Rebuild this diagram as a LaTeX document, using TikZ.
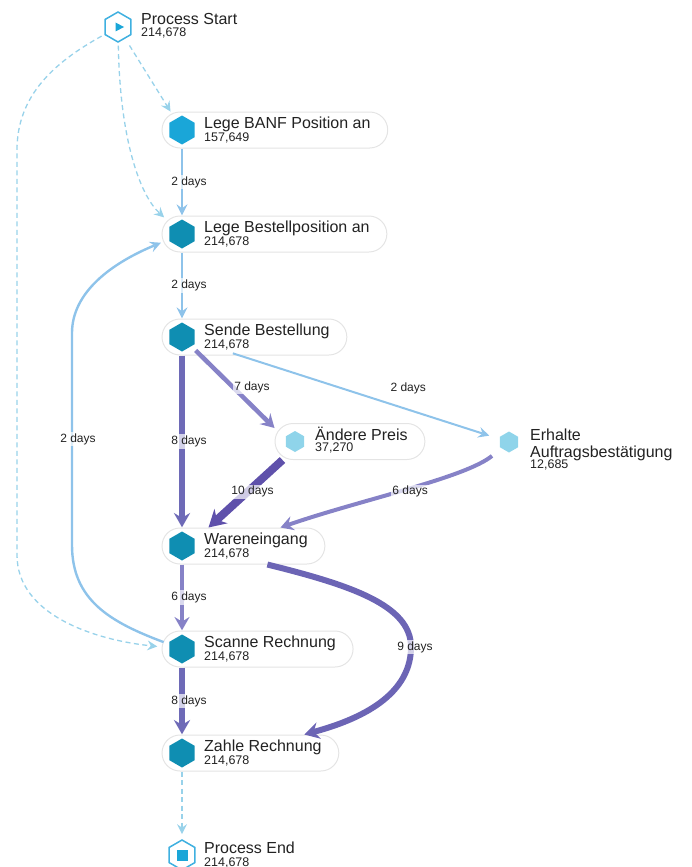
\documentclass[tikz,border=0pt]{standalone}
\usepackage{fontspec}
\setmainfont{Liberation Sans}
\usepackage{tikz}
\usetikzlibrary{arrows.meta,fit,shapes.geometric}
\definecolor{actc}{HTML}{0F8EB2}
\definecolor{banfc}{HTML}{1AA6D8}
\definecolor{lightc}{HTML}{8FD4EA}
\definecolor{iconc}{HTML}{3FB0E0}
\definecolor{lblue}{HTML}{8EC3EA}
\definecolor{dashc}{HTML}{98D2EA}
\definecolor{pillc}{HTML}{E4E4E4}
\definecolor{txt}{HTML}{222222}
\definecolor{pa}{HTML}{6E6AB7}
\definecolor{pb}{HTML}{8682C7}
\definecolor{pc}{HTML}{5F51AB}
\definecolor{pd}{HTML}{6C65B5}

\tikzset{
  act/.style={regular polygon, regular polygon sides=6, shape border rotate=30,
    minimum size=29pt, inner sep=0pt, fill=actc},
  actl/.style={act, minimum size=21pt, fill=lightc},
  icon/.style={regular polygon, regular polygon sides=6, shape border rotate=30,
    minimum size=30pt, inner sep=0pt, draw=iconc, line width=1.5pt, fill=white},
  ttl/.style={anchor=base west, inner xsep=17pt, inner ysep=0pt, text=txt,
    font=\fontsize{16}{17}\selectfont},
  cnt/.style={anchor=base west, inner sep=0pt, text=txt,
    font=\fontsize{12.5}{13}\selectfont},
  pill/.style={draw=pillc, line width=1pt, rounded corners=18pt, inner sep=0pt},
  lbl/.style={font=\fontsize{12}{13}\selectfont, text=txt, fill=white,
    fill opacity=0.7, text opacity=1, inner sep=1.5pt},
  flowl/.style={draw=lblue, line width=2.4pt,
    -{Stealth[length=11pt,width=11pt,inset=4pt,line width=0pt]}},
  flowd/.style={draw=dashc, line width=1.3pt, dash pattern=on 5pt off 3.5pt,
    -{Stealth[length=10pt,width=10pt,inset=3.5pt,line width=0pt]}},
  flowp/.style 2 args={draw=#1, line width=#2,
    -{Stealth[length=9pt 1,width=10pt 1.2,inset=4pt 0.2,line width=0pt]}},
}

\begin{document}
\begin{tikzpicture}[x=1pt,y=-1pt]
        \useasboundingbox (0,0) rectangle (691,867);
        \path
        % top
        (118,27) node[icon](start) {}
        (124,25) node[ttl](startt) {Process Start}
        (141,37) node[cnt](startn) {214,678}

        (182,130) node[act,fill=banfc](banf) {} +(-20,-18) coordinate(banfa) +(0,18) coordinate(banfz)
        (187,128) node[ttl](banft) {Lege BANF Position an}
        (204,141) node[cnt](banfn) {157,649}

        (182,234) node[act](bpos) {} +(-20,-18) coordinate(bposa) +(0,18) coordinate(bposz)
        (187,232) node[ttl](bpost) {Lege Bestellposition an}
        (204,245) node[cnt](bposn) {214,678}

        (182,337) node[act](sende) {} +(-20,-18) coordinate(sendea) +(0,18) coordinate(sendez)
        (187,335) node[ttl](sendet) {Sende Bestellung}
        (204,348) node[cnt](senden) {214,678}

        % middle
        (295,441.5) node[actl](preis) {} +(-20,-18) coordinate(preisa) +(0,18) coordinate(preisz)
        (298,440) node[ttl](preist) {Ändere Preis}
        (315,451.5) node[cnt](preisn) {37,270}

        (509,442) node[actl](ab) {}
        (513,457) node[ttl,align=left](abt) {Erhalte\\Auftragsbestätigung}
        (530,468.5) node[cnt](abn) {12,685}

        % bottom
        (182,546) node[act](we) {} +(-20,-18) coordinate(wea) +(0,18) coordinate(wez)
        (187,544) node[ttl](wet) {Wareneingang}
        (204,557) node[cnt](wen) {214,678}

        (182,649) node[act](scan) {} +(-20,-18) coordinate(scana) +(0,18) coordinate(scanz)
        (187,647) node[ttl](scant) {Scanne Rechnung}
        (204,660) node[cnt](scann) {214,678}

        (182,753) node[act](zahle) {} +(-20,-18) coordinate(zahlea) +(0,18) coordinate(zahlez)
        (187,751) node[ttl](zahlet) {Zahle Rechnung}
        (204,764) node[cnt](zahlen) {214,678}

        (182,855) node[icon](end) {}
        (187,853) node[ttl](endt) {Process End}
        (204,866) node[cnt](endn) {214,678}
        ;

        \fill[banfc] (start) ++(-2.5,-4.5) -- ++(0,9) -- ++(8.5,-4.5) -- cycle;
        \fill[banfc] (end) ++(-5.5,-5.5) rectangle ++(11,11);

        \node[pill,fit=(banfa) (banfz) (banft)] (banfb) {};
        \node[pill,fit=(bposa) (bposz) (bpost)] (bposb) {};
        \node[pill,fit=(sendea) (sendez) (sendet)] (sendeb) {};
        \node[pill,fit=(preisa) (preisz) (preist)] (preisb) {};
        \node[pill,fit=(wea) (wez) (wet)] (web) {};
        \node[pill,fit=(scana) (scanz) (scant)] (scanb) {};
        \node[pill,fit=(zahlea) (zahlez) (zahlet)] (zahleb) {};

        % start and end
        \draw[flowd,shorten <=8pt,shorten >=9pt] (start) -- (banf);
        \draw[flowd,shorten <=3pt,shorten >=11pt] (start) .. controls (120,140) and (140,195) .. (bpos);
        \draw[flowd,shorten <=3pt,shorten >=12pt] (start) .. controls (55,62) and (17,95) .. (17,150)
          -- (17,555) .. controls (17,615) and (95,640) .. (scan);
        \draw[flowd,shorten <=4pt,shorten >=5pt] (zahle) -- (end);

        % light
        \draw[flowl,shorten <=4pt,shorten >=4pt] (banf) -- node[lbl,xshift=7pt] {2 days} (bpos);
        \draw[flowl,shorten <=4pt,shorten >=4pt] (bpos) -- node[lbl,xshift=7pt] {2 days} (sende);
        \draw[flowl,line width=2pt,shorten <=40pt,shorten >=11pt] (sende) -- node[lbl,pos=0.7,yshift=21pt] {2 days} (ab);
        \draw[flowl,shorten <=6pt,shorten >=9pt] (scan) .. controls (110,622) and (72,600) .. (72,545)
          -- node[lbl,xshift=6pt] {2 days} (72,333) .. controls (72,292) and (112,263) .. (bpos);

        % heavy
        \draw[flowp={pa}{5.5pt},shorten <=4pt,shorten >=4pt] (sende) -- node[lbl,xshift=7pt] {8 days} (we);
        \draw[flowp={pb}{4.5pt},shorten <=6pt] (sende) -- node[lbl,xshift=19pt] {7 days} ([yshift=-5pt]preisb.north west);
        \draw[flowp={pc}{8pt}] ([xshift=8pt]preisb.south west) -- node[lbl,xshift=7pt,yshift=2pt] {10 days} ([xshift=47pt]web.north west);
        \draw[flowp={pb}{4pt},shorten <=12pt] (ab) .. controls (465,478) and (360,500) .. node[lbl,xshift=3pt,yshift=-3pt] {6 days} ([xshift=119pt]web.north west);
        \draw[flowp={pb}{4.5pt},shorten <=4pt,shorten >=4pt] (we) -- node[lbl,xshift=7pt] {6 days} (scan);
        \draw[flowp={pa}{5.5pt},shorten <=4pt,shorten >=4pt] (scan) -- node[lbl,xshift=7pt] {8 days} (zahle);
        \draw[flowp={pd}{6pt}] ([xshift=-58pt]web.south east) .. controls (350,585) and (411,605) .. (411,647)
          node[lbl,xshift=4pt] {9 days} .. controls (411,700) and (350,722) .. ([xshift=-35pt]zahleb.north east);
      \end{tikzpicture}
\end{document}
